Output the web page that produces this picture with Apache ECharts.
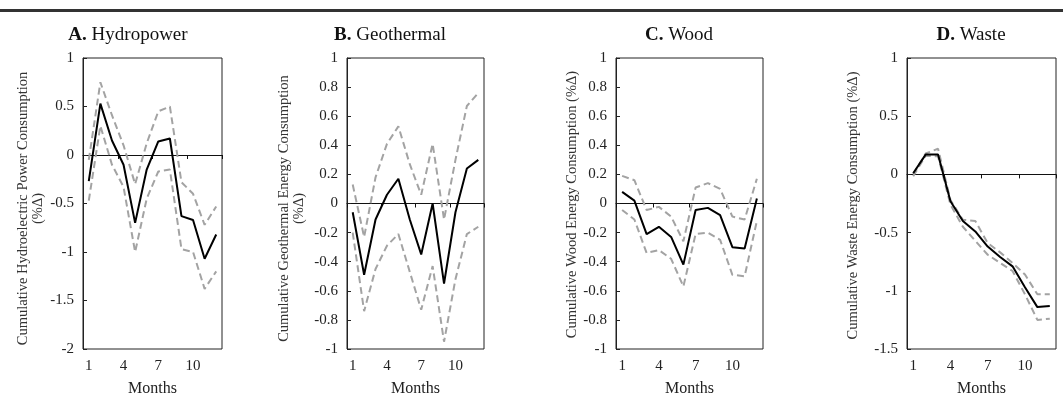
<!DOCTYPE html>
<html>
<head>
<meta charset="utf-8">
<script src="https://cdn.jsdelivr.net/npm/echarts@6/dist/echarts.min.js"></script>
<style>
html, body { margin: 0; padding: 0; background: #fff; }
#main { width: 1063px; height: 402px; }
</style>
</head>
<body>
<div id="main"></div>
<script>
var months = ['1', '2', '3', '4', '5', '6', '7', '8', '9', '10', '11', '12'];

// A. Hydropower
var hydroMean  = [-0.27, 0.53, 0.15, -0.10, -0.70, -0.15, 0.14, 0.17, -0.63, -0.67, -1.07, -0.82];
var hydroUpper = [-0.05, 0.75, 0.41, 0.10, -0.30, 0.12, 0.45, 0.50, -0.28, -0.40, -0.72, -0.53];
var hydroLower = [-0.47, 0.30, -0.10, -0.33, -1.00, -0.45, -0.17, -0.15, -0.97, -1.00, -1.38, -1.20];

// B. Geothermal
var geoMean  = [-0.06, -0.49, -0.11, 0.06, 0.17, -0.11, -0.35, 0.00, -0.55, -0.06, 0.24, 0.30];
var geoUpper = [0.13, -0.23, 0.18, 0.41, 0.53, 0.27, 0.06, 0.41, -0.11, 0.30, 0.67, 0.76];
var geoLower = [-0.20, -0.74, -0.45, -0.29, -0.21, -0.47, -0.73, -0.43, -0.95, -0.52, -0.21, -0.16];

// C. Wood
var woodMean  = [0.08, 0.02, -0.21, -0.16, -0.23, -0.42, -0.045, -0.03, -0.08, -0.30, -0.31, 0.034];
var woodUpper = [0.19, 0.16, -0.045, -0.023, -0.09, -0.26, 0.11, 0.14, 0.10, -0.09, -0.11, 0.17];
var woodLower = [-0.045, -0.11, -0.34, -0.32, -0.38, -0.57, -0.21, -0.20, -0.25, -0.49, -0.50, -0.12];

// D. Waste
var wasteMean  = [0.01, 0.17, 0.17, -0.23, -0.40, -0.49, -0.62, -0.71, -0.79, -0.97, -1.14, -1.13];
var wasteUpper = [0.00, 0.18, 0.22, -0.22, -0.39, -0.40, -0.59, -0.67, -0.76, -0.86, -1.03, -1.03];
var wasteLower = [-0.015, 0.16, 0.155, -0.26, -0.45, -0.57, -0.69, -0.76, -0.83, -1.03, -1.25, -1.24];

var yMinA = -2,   yMaxA = 1, yStepA = 0.5;
var yMinB = -1,   yMaxB = 1, yStepB = 0.2;
var yMinC = -1,   yMaxC = 1, yStepC = 0.2;
var yMinD = -1.5, yMaxD = 1, yStepD = 0.5;

var serif = '"Liberation Serif", "DejaVu Serif", serif';

/**************************************************************************************************
 * panel layout
 */
var panels = [
	{ letter: 'A.', name: 'Hydropower', yName: 'Cumulative Hydroelectric Power Consumption\n(%\u0394)',
	  mean: hydroMean, upper: hydroUpper, lower: hydroLower, min: yMinA, max: yMaxA, step: yStepA,
	  left: 83, width: 139, titleX: 123, nameGap: 37, nameShift: 10 },
	{ letter: 'B.', name: 'Geothermal', yName: 'Cumulative Geothermal Energy Consumption\n(%\u0394)',
	  mean: geoMean, upper: geoUpper, lower: geoLower, min: yMinB, max: yMaxB, step: yStepB,
	  left: 347, width: 137, titleX: 385, nameGap: 40, nameShift: 10 },
	{ letter: 'C.', name: 'Wood', yName: 'Cumulative Wood Energy Consumption (%\u0394)',
	  mean: woodMean, upper: woodUpper, lower: woodLower, min: yMinC, max: yMaxC, step: yStepC,
	  left: 616, width: 147, titleX: 674, nameGap: 35, nameShift: 2 },
	{ letter: 'D.', name: 'Waste', yName: 'Cumulative Waste Energy Consumption (%\u0394)',
	  mean: wasteMean, upper: wasteUpper, lower: wasteLower, min: yMinD, max: yMaxD, step: yStepD,
	  left: 907, width: 149, titleX: 966, nameGap: 46, nameShift: 4 }
];

var option = {
	backgroundColor: '#fff',
	animation: false,
	title: [],
	grid: [],
	xAxis: [],
	yAxis: [],
	series: [],
	graphic: [
		{ type: 'line', shape: { x1: 0, y1: 10.5, x2: 1063, y2: 10.5 }, style: { stroke: '#333', lineWidth: 3 } }
	]
};

panels.forEach(function (p, i) {
	option.title.push({
		text: '{b|' + p.letter + '} ' + p.name,
		left: p.titleX,
		top: 21,
		textAlign: 'center',
		textStyle: {
			fontFamily: serif, fontSize: 19, fontWeight: 'normal', color: '#111',
			rich: { b: { fontFamily: serif, fontSize: 19, fontWeight: 'bold', color: '#111' } }
		}
	});
	option.grid.push({
		left: p.left, top: 58, width: p.width, height: 295,
		show: true, borderColor: '#222', borderWidth: 1, backgroundColor: 'transparent'
	});
	// bottom axis: labels + title only
	option.xAxis.push({
		type: 'category', gridIndex: i, data: months, position: 'bottom',
		boundaryGap: true,
		axisLine: { show: false, onZero: false },
		axisTick: { show: false },
		axisLabel: { interval: 2, margin: 10, fontFamily: serif, fontSize: 15, color: '#222' },
		name: 'Months', nameLocation: 'middle', nameGap: 32,
		nameTextStyle: { fontFamily: serif, fontSize: 16, color: '#222' }
	});
	// zero line with ticks
	option.xAxis.push({
		type: 'category', gridIndex: i, data: months, position: 'bottom',
		boundaryGap: true,
		axisLine: { show: true, onZero: true, lineStyle: { color: '#111', width: 1 } },
		axisTick: { show: true, interval: 2, length: 4, lineStyle: { color: '#111' } },
		axisLabel: { show: false },
		splitLine: { show: false }
	});
	option.yAxis.push({
		type: 'value', gridIndex: i, min: p.min, max: p.max, interval: p.step,
		axisLine: { show: true, lineStyle: { color: '#222' } },
		axisTick: { show: true, inside: true, length: 4, lineStyle: { color: '#222' } },
		axisLabel: { margin: 9, fontFamily: serif, fontSize: 15, color: '#222' },
		splitLine: { show: false },
		name: p.yName, nameLocation: 'middle', nameRotate: 90, nameGap: p.nameGap,
		nameTextStyle: { fontFamily: serif, fontSize: 14.5, color: '#333', lineHeight: 15,
			padding: [0, p.nameShift, 0, 0] }
	});

	var dashed = { color: '#a3a3a3', width: 2, type: [7, 4] };
	option.series.push(
		{ type: 'line', xAxisIndex: 2 * i, yAxisIndex: i, data: p.upper, symbol: 'none', lineStyle: dashed, z: 2 },
		{ type: 'line', xAxisIndex: 2 * i, yAxisIndex: i, data: p.lower, symbol: 'none', lineStyle: dashed, z: 2 },
		{ type: 'line', xAxisIndex: 2 * i, yAxisIndex: i, data: p.mean, symbol: 'none',
		  lineStyle: { color: '#000', width: 2 }, z: 3 }
	);
});

var chart = echarts.init(document.getElementById('main'));
chart.setOption(option);
</script>
</body>
</html>
